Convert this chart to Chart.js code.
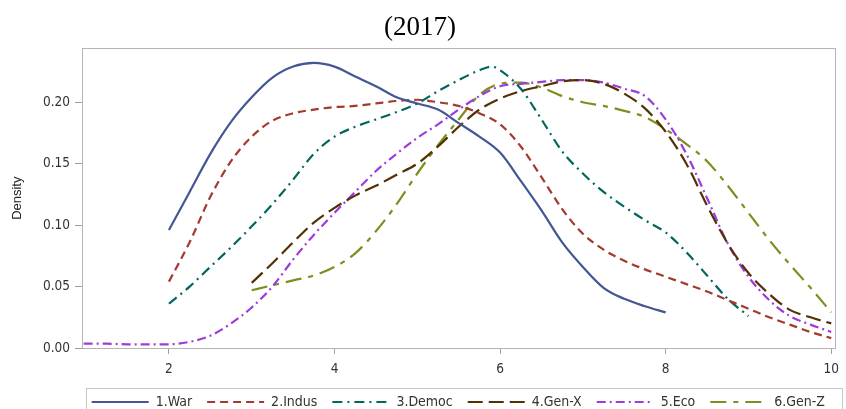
<!DOCTYPE html>
<html>
<head>
<meta charset="utf-8">
<script src="https://cdn.jsdelivr.net/npm/chart.js@4/dist/chart.umd.min.js"></script>
<style>
  html, body { margin: 0; padding: 0; background: #fff; }
</style>
</head>
<body>
<canvas id="c" width="846" height="409"></canvas>
<script>
// density curves (x = score, y = density)
const warX   = [2, 2.25, 2.5, 2.75, 3, 3.25, 3.5, 3.75, 4, 4.25, 4.5, 4.75, 5, 5.25, 5.5, 5.75, 6, 6.25, 6.5, 6.75, 7, 7.25, 7.5, 7.75, 8];
const warY   = [0.096, 0.127, 0.158, 0.184, 0.204, 0.220, 0.229, 0.232, 0.229, 0.221, 0.213, 0.204, 0.199, 0.194, 0.183, 0.172, 0.159, 0.136, 0.112, 0.086, 0.066, 0.049, 0.040, 0.034, 0.029];

const indusX = [2, 2.25, 2.5, 2.75, 3, 3.25, 3.5, 3.75, 4, 4.25, 4.5, 4.75, 5, 5.25, 5.5, 5.75, 6, 6.25, 6.5, 6.75, 7, 7.25, 7.5, 7.75, 8, 8.25, 8.5, 8.75, 9, 9.25, 9.5, 9.75, 10];
const indusY = [0.054, 0.086, 0.123, 0.152, 0.172, 0.185, 0.191, 0.194, 0.196, 0.197, 0.199, 0.201, 0.202, 0.200, 0.197, 0.191, 0.182, 0.164, 0.139, 0.113, 0.093, 0.080, 0.071, 0.064, 0.058, 0.052, 0.046, 0.039, 0.032, 0.025, 0.019, 0.013, 0.008];

const democX = [2, 2.25, 2.5, 2.75, 3, 3.25, 3.5, 3.75, 4, 4.25, 4.5, 4.75, 5, 5.25, 5.5, 5.75, 5.9, 6, 6.25, 6.5, 6.75, 7, 7.25, 7.5, 7.75, 8, 8.25, 8.5, 8.75, 9];
const democY = [0.036, 0.050, 0.066, 0.082, 0.099, 0.117, 0.137, 0.158, 0.172, 0.180, 0.186, 0.192, 0.199, 0.209, 0.218, 0.226, 0.229, 0.226, 0.211, 0.186, 0.160, 0.142, 0.127, 0.115, 0.104, 0.094, 0.078, 0.059, 0.040, 0.026];

const genxX  = [3, 3.25, 3.5, 3.75, 4, 4.25, 4.5, 4.75, 5, 5.25, 5.5, 5.75, 6, 6.25, 6.5, 6.75, 7, 7.25, 7.5, 7.75, 8, 8.25, 8.5, 8.75, 9, 9.25, 9.5, 9.75, 10];
const genxY  = [0.053, 0.069, 0.086, 0.102, 0.114, 0.124, 0.132, 0.141, 0.150, 0.164, 0.180, 0.194, 0.203, 0.209, 0.213, 0.217, 0.218, 0.215, 0.207, 0.195, 0.176, 0.150, 0.116, 0.085, 0.061, 0.044, 0.031, 0.025, 0.020];

const ecoX   = [0.97, 1.25, 1.5, 1.75, 2, 2.25, 2.5, 2.75, 3, 3.25, 3.5, 3.75, 4, 4.25, 4.5, 4.75, 5, 5.25, 5.5, 5.75, 6, 6.25, 6.5, 6.75, 7, 7.25, 7.5, 7.75, 8, 8.25, 8.5, 8.75, 9, 9.25, 9.5, 9.75, 10];
const ecoY   = [0.0035, 0.0035, 0.003, 0.003, 0.003, 0.005, 0.010, 0.020, 0.033, 0.050, 0.072, 0.092, 0.110, 0.127, 0.144, 0.158, 0.171, 0.182, 0.194, 0.205, 0.213, 0.215, 0.2165, 0.218, 0.218, 0.216, 0.211, 0.205, 0.186, 0.158, 0.122, 0.085, 0.058, 0.039, 0.026, 0.019, 0.013];

const genzX  = [3, 3.25, 3.5, 3.75, 4, 4.25, 4.5, 4.75, 5, 5.25, 5.5, 5.75, 6, 6.25, 6.5, 6.75, 7, 7.25, 7.5, 7.75, 8, 8.25, 8.5, 8.75, 9, 9.25, 9.5, 9.75, 10];
const genzY  = [0.047, 0.051, 0.055, 0.059, 0.066, 0.077, 0.095, 0.117, 0.142, 0.165, 0.186, 0.206, 0.215, 0.216, 0.212, 0.205, 0.200, 0.197, 0.193, 0.188, 0.178, 0.166, 0.152, 0.132, 0.110, 0.088, 0.068, 0.049, 0.029];

const seriesNames = ["1.War", "2.Indus", "3.Democ", "4.Gen-X", "5.Eco", "6.Gen-Z"];
const xTicks = [2, 4, 6, 8, 10];
const yTicks = [0, 0.05, 0.10, 0.15, 0.20];

const narrow = "'Liberation Sans Narrow', 'DejaVu Sans Condensed', sans-serif";
const lineW = 2.2;

const pts = (xs, ys) => xs.map((x, i) => ({ x, y: ys[i] }));

// plot frame + legend frame
const frames = {
  id: "frames",
  afterDraw(chart) {
    const { ctx, chartArea: a } = chart;
    ctx.save();
    ctx.lineWidth = 1;
    ctx.strokeStyle = "#b4b4b4";
    ctx.strokeRect(Math.round(a.left) + 0.5, Math.round(a.top) + 0.5,
      Math.round(a.right - a.left), Math.round(a.bottom - a.top));
    const boxes = chart.legend.legendHitBoxes;
    if (boxes.length) {
      const top = boxes[0].top - 7;
      ctx.strokeStyle = "#c8c8c8";
      ctx.strokeRect(86.5, Math.round(top) + 0.5, 756, 40);
    }
    ctx.restore();
  },
};

new Chart(document.getElementById("c"), {
  type: "line",
  data: {
    datasets: [
      { label: seriesNames[0], data: pts(warX, warY), borderColor: "#445694", borderDash: [] },
      { label: seriesNames[1], data: pts(indusX, indusY), borderColor: "#A23A2E", borderDash: [8, 5] },
      { label: seriesNames[2], data: pts(democX, democY), borderColor: "#01665E", borderDash: [10, 5, 2, 5] },
      { label: seriesNames[3], data: pts(genxX, genxY), borderColor: "#543005", borderDash: [15, 6] },
      { label: seriesNames[4], data: pts(ecoX, ecoY), borderColor: "#9D3CDB", borderDash: [9, 4, 2, 4] },
      { label: seriesNames[5], data: pts(genzX, genzY), borderColor: "#7F8E1F", borderDash: [16, 7, 5, 7] },
    ],
  },
  options: {
    animation: false,
    responsive: false,
    layout: { padding: { left: 0, right: 6, top: 0, bottom: -10 } },
    elements: {
      point: { radius: 0 },
      line: { borderWidth: lineW, cubicInterpolationMode: "monotone", fill: false },
    },
    plugins: {
      title: {
        display: true,
        text: "(2017)",
        color: "#000",
        font: { family: "'Liberation Serif', serif", size: 27, weight: "normal" },
        padding: { top: 12, bottom: 4 },
      },
      legend: {
        position: "bottom",
        align: "end",
        labels: {
          usePointStyle: true,
          pointStyle: "line",
          pointStyleWidth: 57,
          padding: 15,
          color: "#333",
          font: { family: narrow, size: 14 },
          // line samples keep the dataset dash pattern and width
          generateLabels: (chart) =>
            Chart.defaults.plugins.legend.labels.generateLabels(chart).map((l) => ({
              ...l,
              lineDash: chart.data.datasets[l.datasetIndex].borderDash,
              lineWidth: lineW,
            })),
        },
      },
      tooltip: { enabled: false },
    },
    scales: {
      x: {
        type: "linear",
        min: 0.95,
        max: 10.05,
        afterBuildTicks: (s) => { s.ticks = xTicks.map((v) => ({ value: v })); },
        afterFit: (s) => { s.height = 32; },
        grid: { drawOnChartArea: false, tickLength: 6, color: "#a0a0a0" },
        border: { display: false },
        ticks: { padding: 7, maxRotation: 0, color: "#333", font: { family: narrow, size: 13.5 } },
      },
      y: {
        min: 0,
        max: 0.2438,
        afterBuildTicks: (s) => { s.ticks = yTicks.map((v) => ({ value: v })); },
        afterFit: (s) => { s.width = 82; },
        title: {
          display: true,
          text: "Density",
          color: "#222",
          font: { family: "'Liberation Sans', sans-serif", size: 13 },
          padding: { top: 10, bottom: 0 },
        },
        grid: { drawOnChartArea: false, tickLength: 7, color: "#a0a0a0" },
        border: { display: false },
        ticks: { padding: 5, color: "#333", font: { family: narrow, size: 13.5 }, callback: (v) => v.toFixed(2) },
      },
    },
  },
  plugins: [frames],
});
</script>
</body>
</html>
